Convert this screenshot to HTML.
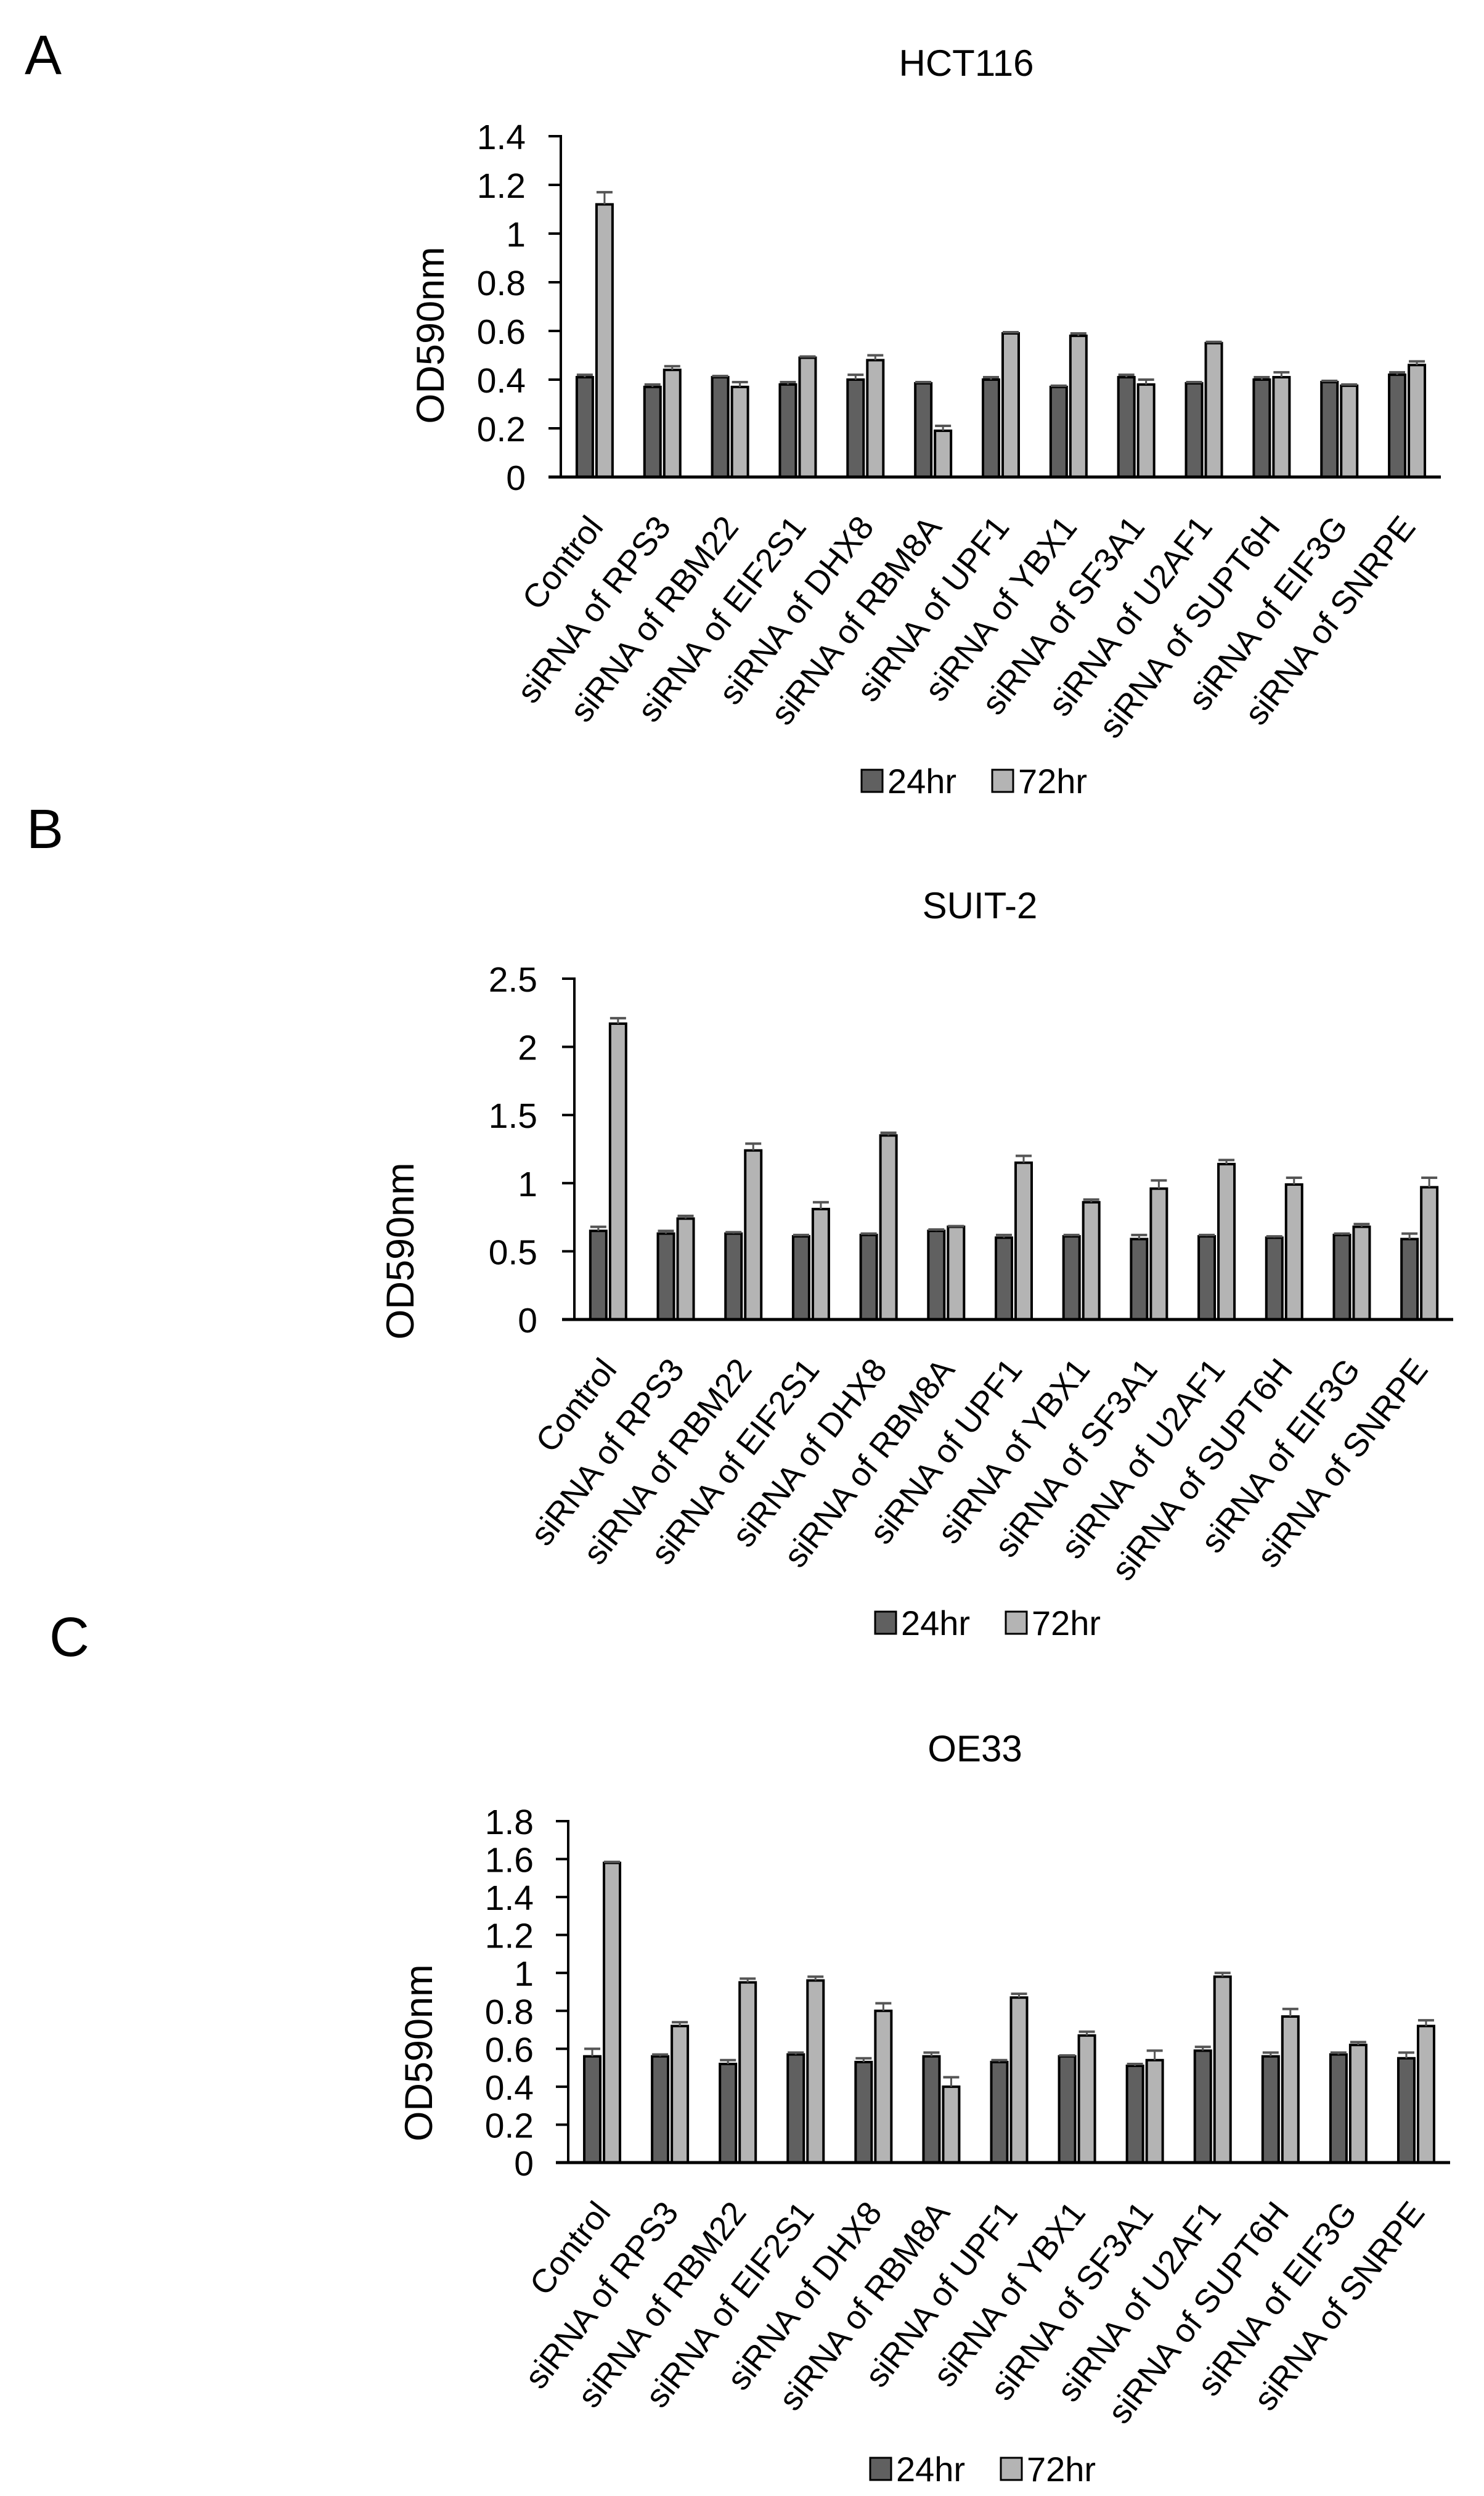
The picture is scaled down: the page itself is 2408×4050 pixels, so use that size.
<!DOCTYPE html>
<html><head><meta charset="utf-8">
<style>
html,body{margin:0;padding:0;background:#fff;}
svg{display:block;font-family:"Liberation Sans",sans-serif;}
</style></head>
<body>
<svg id="fig" width="2408" height="4050" viewBox="0 0 2408 4050" xmlns="http://www.w3.org/2000/svg">
<rect width="2408" height="4050" fill="#fff"/>
<text x="40" y="120" font-size="90">A</text>
<text x="43" y="1376" font-size="90">B</text>
<text x="80" y="2687" font-size="90">C</text>
</svg>
<script>
const categories = ["Control","siRNA of RPS3","siRNA of RBM22","siRNA of EIF2S1","siRNA of DHX8","siRNA of RBM8A","siRNA of UPF1","siRNA of YBX1","siRNA of SF3A1","siRNA of U2AF1","siRNA of SUPT6H","siRNA of EIF3G","siRNA of SNRPE"];
const seriesNames = ["24hr","72hr"];

const hct24 = [0.41,0.37,0.41,0.38,0.40,0.385,0.40,0.37,0.41,0.385,0.40,0.39,0.42];
const hct72 = [1.12,0.44,0.37,0.49,0.48,0.19,0.59,0.58,0.38,0.55,0.41,0.375,0.46];
const hct24Err = [0.01,0.01,0.005,0.01,0.02,0.005,0.01,0.005,0.01,0.005,0.01,0.005,0.01];
const hct72Err = [0.05,0.015,0.02,0.005,0.02,0.02,0.005,0.01,0.02,0.005,0.02,0.005,0.015];
const hctTicks = ["0","0.2","0.4","0.6","0.8","1","1.2","1.4"];

const suit24 = [0.65,0.63,0.63,0.61,0.62,0.65,0.60,0.61,0.59,0.61,0.60,0.62,0.59];
const suit72 = [2.17,0.74,1.24,0.81,1.35,0.68,1.15,0.86,0.96,1.14,0.99,0.68,0.97];
const suit24Err = [0.03,0.02,0.01,0.01,0.01,0.01,0.02,0.01,0.03,0.01,0.01,0.01,0.04];
const suit72Err = [0.04,0.02,0.05,0.05,0.02,0.005,0.05,0.02,0.06,0.03,0.05,0.02,0.07];
const suitTicks = ["0","0.5","1","1.5","2","2.5"];

const oe24 = [0.56,0.56,0.52,0.57,0.53,0.56,0.53,0.56,0.51,0.59,0.56,0.57,0.55];
const oe72 = [1.58,0.72,0.95,0.96,0.80,0.40,0.87,0.67,0.54,0.98,0.77,0.62,0.72];
const oe24Err = [0.04,0.01,0.02,0.01,0.02,0.02,0.01,0.005,0.01,0.02,0.02,0.01,0.03];
const oe72Err = [0.005,0.02,0.02,0.02,0.04,0.05,0.02,0.02,0.05,0.02,0.04,0.015,0.03];
const oeTicks = ["0","0.2","0.4","0.6","0.8","1","1.2","1.4","1.6","1.8"];

const NS = "http://www.w3.org/2000/svg";
const svg = document.getElementById("fig");
function mk(tag, attrs, parent){
  const e = document.createElementNS(NS, tag);
  for (const k in attrs) e.setAttribute(k, attrs[k]);
  (parent||svg).appendChild(e);
  return e;
}

function drawPanel(cfg){
  const g = mk("g", {});
  
  
  const ticks = cfg.ticks.map(Number);
  const yMax = ticks[ticks.length-1];
  const y = v => cfg.y0 - (v / yMax) * (cfg.y0 - cfg.yTop);
  const slot = (cfg.xEnd - cfg.axisX) / categories.length;
  const xc = i => cfg.axisX + slot * (i + 0.5);

  const t = mk("text", {x: cfg.titleX, y: cfg.titleY, "font-size": 60, "text-anchor": "middle"}, g);
  t.textContent = cfg.title;
  
  

  const yl = mk("text", {x: 0, y: 0, "font-size": 63, "text-anchor": "middle",
    transform: `translate(${cfg.ylX},${cfg.ylY}) rotate(-90)`}, g);
  yl.textContent = "OD590nm";
  
  

  cfg.ticks.forEach((lab, k) => {
    const v = ticks[k], yy = y(v);
    const tl = mk("line", {x1: cfg.axisX - 20, x2: cfg.axisX, y1: yy, y2: yy, stroke: "#000", "stroke-width": 4}, g);
    
    
    const tt = mk("text", {x: cfg.labRight, y: yy + 21, "font-size": 57, "text-anchor": "end"}, g);
    tt.textContent = lab;
    
    
  });

  const series = [cfg.s1, cfg.s2], errs = [cfg.e1, cfg.e2];
  const fills = ["#606060", "#b4b4b4"];
  categories.forEach((c, i) => {
    const cx = xc(i);
    for (let s = 0; s < 2; s++){
      const x0 = s === 0 ? cx - 29 : cx + 3;
      const v = series[s][i];
      const r = mk("rect", {x: x0, y: y(v), width: 26, height: cfg.y0 - y(v), fill: fills[s], stroke: "#000", "stroke-width": 4}, g);
      
      
      const ey = y(v + errs[s][i]);
      const el = mk("line", {x1: x0 + 13, x2: x0 + 13, y1: y(v), y2: ey, stroke: "#555", "stroke-width": 3}, g);
      
      
      const ec = mk("line", {x1: x0, x2: x0 + 26, y1: ey, y2: ey, stroke: "#555", "stroke-width": 4}, g);
      
      
    }
    const lx = cx + 16, ly = cfg.y0 + 82;
    const lt = mk("text", {x: 0, y: 0, "font-size": 54, "text-anchor": "end",
      transform: `translate(${lx},${ly}) rotate(-52)`}, g);
    lt.textContent = c;
    
    
  });

  const ya = mk("line", {x1: cfg.axisX, x2: cfg.axisX, y1: cfg.yTop - 2, y2: cfg.y0, stroke: "#000", "stroke-width": 4}, g);
  
  
  const xa = mk("line", {x1: cfg.axisX - 20, x2: cfg.xEnd, y1: cfg.y0, y2: cfg.y0, stroke: "#000", "stroke-width": 5}, g);
  
  

  const lg = mk("g", {}, g);
  
  
  const lxs = [cfg.legX, cfg.legX + 212];
  for (let s = 0; s < 2; s++){
    const sq = mk("rect", {x: lxs[s], y: cfg.legY - 18, width: 34, height: 36, fill: fills[s], stroke: "#000", "stroke-width": 3}, lg);
    
    
    const st = mk("text", {x: lxs[s] + 42, y: cfg.legY + 20, "font-size": 56}, lg);
    st.textContent = seriesNames[s];
    
    
  }
}

drawPanel({name: "chart-hct116", title: "HCT116", titleX: 1568, titleY: 123,
  axisX: 910, xEnd: 2338, y0: 774, yTop: 221, labRight: 853, ylX: 720, ylY: 544,
  ticks: hctTicks, s1: hct24, s2: hct72, e1: hct24Err, e2: hct72Err, legX: 1398, legY: 1267});
drawPanel({name: "chart-suit2", title: "SUIT-2", titleX: 1590, titleY: 1490,
  axisX: 932, xEnd: 2358, y0: 2141, yTop: 1588, labRight: 872, ylX: 671, ylY: 2030,
  ticks: suitTicks, s1: suit24, s2: suit72, e1: suit24Err, e2: suit72Err, legX: 1420, legY: 2633});
drawPanel({name: "chart-oe33", title: "OE33", titleX: 1582, titleY: 2858,
  axisX: 922, xEnd: 2353, y0: 3509, yTop: 2955, labRight: 866, ylX: 701, ylY: 3331,
  ticks: oeTicks, s1: oe24, s2: oe72, e1: oe24Err, e2: oe72Err, legX: 1412, legY: 4006});
</script>
</body></html>
